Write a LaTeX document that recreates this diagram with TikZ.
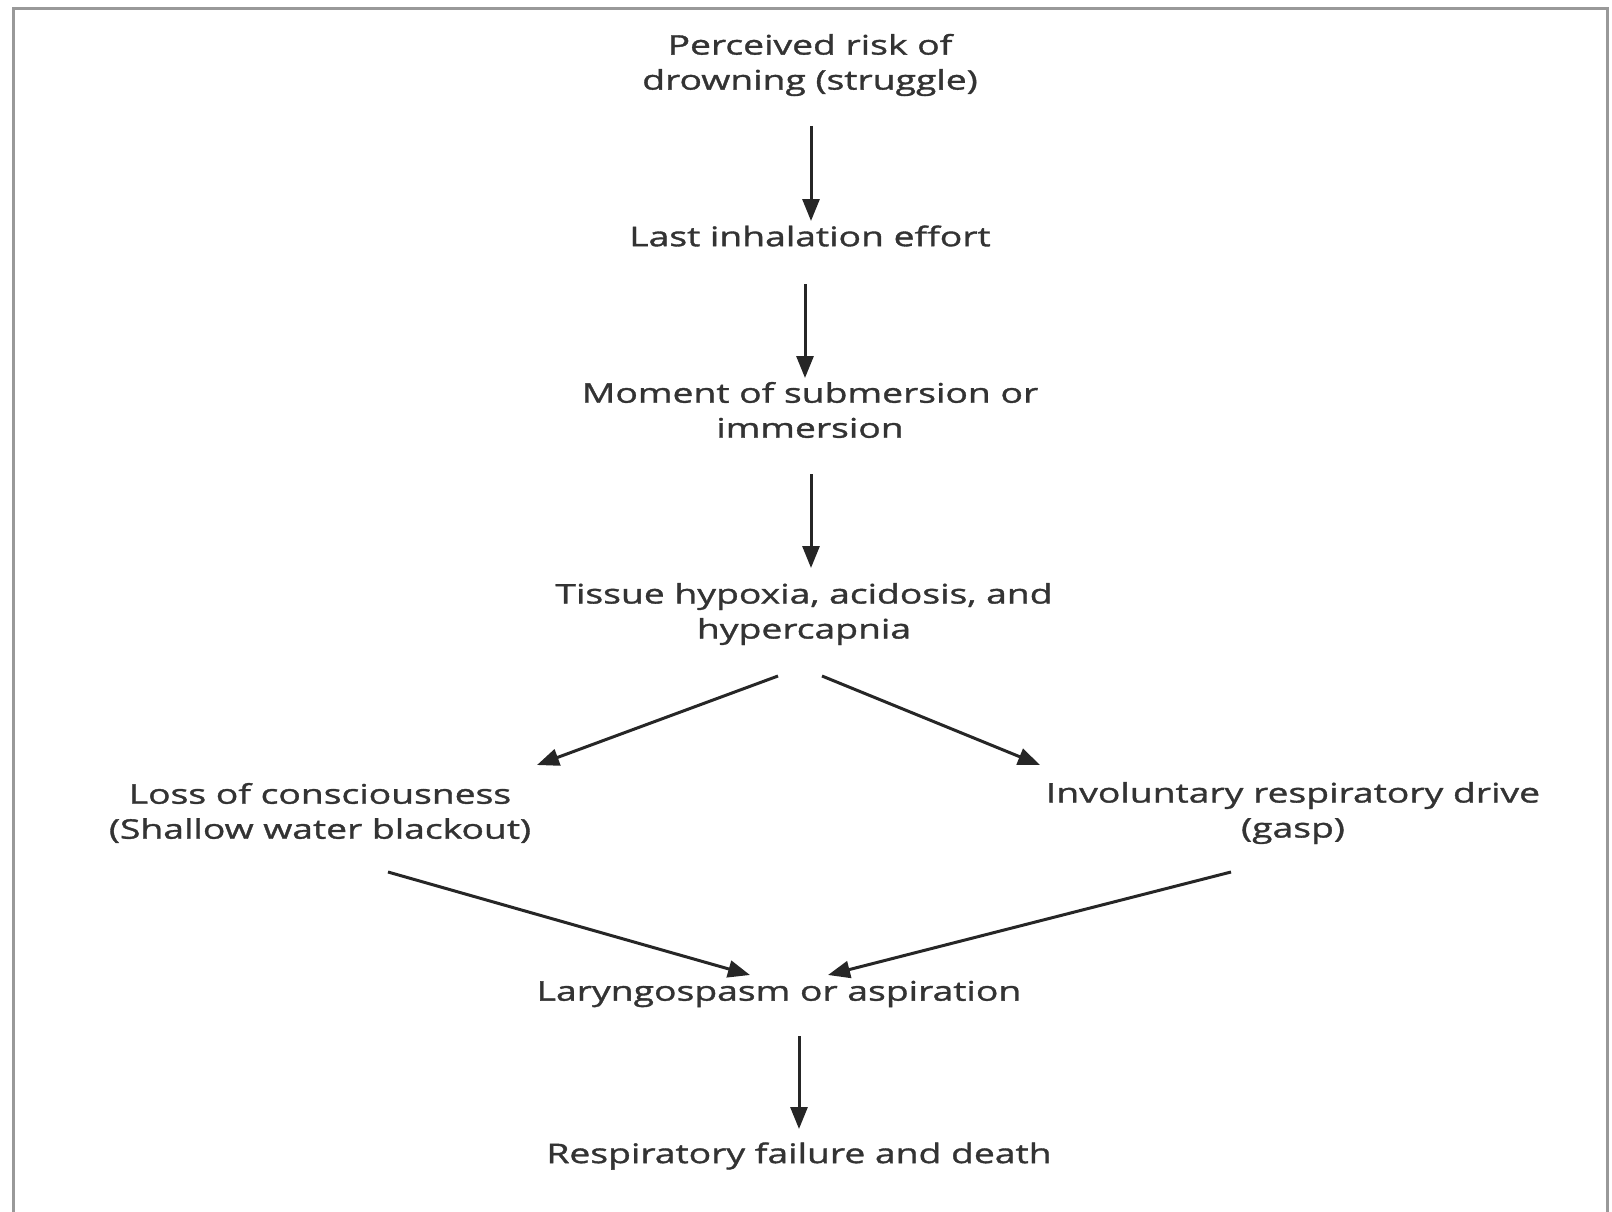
\documentclass[tikz,border=0pt]{standalone}
\usepackage{fontspec}
\setmainfont{Open Sans}[FakeStretch=1.38,FakeBold=1.3]
\usetikzlibrary{arrows.meta,calc}
\begin{document}
\begin{tikzpicture}[x=1pt,y=-1pt,
  lbl/.style={align=center,text=black!80,font=\fontsize{27}{35}\selectfont,inner sep=0pt},
  arr/.style={line width=3pt,draw=black!85,-{Triangle[length=22pt,width=17pt]}}]
\useasboundingbox (0,0) rectangle (1612,1212);
\draw[gray!80,line width=3pt] (13,1212) -- (13,9) -- (1607,9) -- (1607,1212);
\node[lbl] (n1) at (810,65) {Perceived risk of\\drowning (struggle)};
\node[lbl] (n2) at (810,236) {Last inhalation effort};
\node[lbl] (n3) at (810,410) {Moment of submersion or\\immersion};
\node[lbl] (n4) at (804,614) {Tissue hypoxia, acidosis, and\\hypercapnia};
\node[lbl] (n5) at (320,813) {Loss of consciousness\\(Shallow water blackout)};
\node[lbl] (n6) at (1293,813) {Involuntary respiratory drive\\(gasp)};
\node[lbl] (n7) at (779,994) {Laryngospasm or aspiration};
\node[lbl] (n8) at (799,1156) {Respiratory failure and death};
\coordinate (a1s) at (811,126); \coordinate (a1e) at (811,221);
\coordinate (a2s) at (805,284); \coordinate (a2e) at (805,378);
\coordinate (a3s) at (811,474); \coordinate (a3e) at (811,568);
\coordinate (a4s) at (778,676); \coordinate (a4e) at (537,765);
\coordinate (a5s) at (822,676); \coordinate (a5e) at (1040,765);
\coordinate (a6s) at (388,872); \coordinate (a6e) at (750,975);
\coordinate (a7s) at (1231,872); \coordinate (a7e) at (828,975);
\coordinate (a8s) at (799,1036); \coordinate (a8e) at (799,1129);
\draw[arr] (a1s) -- (a1e);
\draw[arr] (a2s) -- (a2e);
\draw[arr] (a3s) -- (a3e);
\draw[arr] (a4s) -- (a4e);
\draw[arr] (a5s) -- (a5e);
\draw[arr] (a6s) -- (a6e);
\draw[arr] (a7s) -- (a7e);
\draw[arr] (a8s) -- (a8e);
\end{tikzpicture}
\end{document}
